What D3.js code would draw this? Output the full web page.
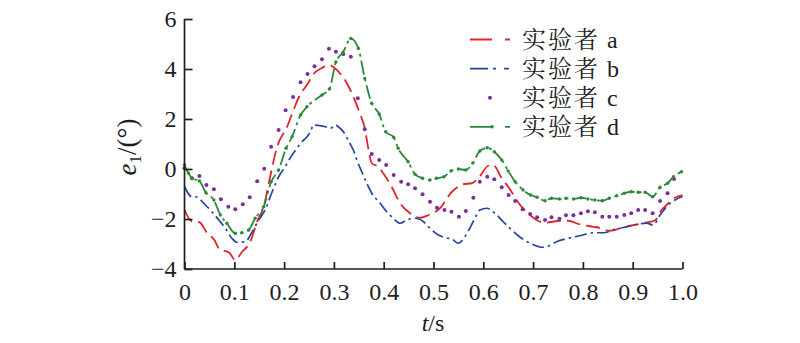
<!DOCTYPE html>
<html>
<head>
<meta charset="utf-8">
<script src="https://cdn.jsdelivr.net/npm/d3@7"></script>
<style>
  body { margin: 0; background: #fff; }
  svg { display: block; }
</style>
</head>
<body>
<svg id="chart" width="800" height="343"></svg>
<script>
// subject a (red, dashed)
const tA = [0, 0.015, 0.03, 0.045, 0.06, 0.07, 0.09, 0.102, 0.115, 0.132, 0.146, 0.159, 0.172, 0.186, 0.206, 0.219, 0.23, 0.248, 0.259, 0.275, 0.292, 0.302, 0.326, 0.339, 0.352, 0.362, 0.369, 0.376, 0.389, 0.399, 0.416, 0.433, 0.453, 0.473, 0.49, 0.513, 0.537, 0.56, 0.577, 0.59, 0.61, 0.62, 0.637, 0.65, 0.674, 0.694, 0.707, 0.724, 0.754, 0.771, 0.791, 0.811, 0.828, 0.854, 0.88, 0.9, 0.926, 0.945, 0.958, 0.968, 0.985, 1.0]
const eA = [-1.64, -2.1, -2.13, -2.55, -2.84, -3.2, -3.35, -3.64, -3.33, -2.91, -2.1, -1.51, -0.31, 0.89, 1.69, 2.36, 2.89, 3.43, 3.8, 4.03, 4.15, 4.03, 3.43, 2.89, 2.23, 1.63, 0.83, 0.23, 0.09, -0.17, -0.71, -1.37, -1.77, -1.95, -1.84, -1.57, -0.91, -0.61, -0.57, -0.37, 0.13, 0.16, -0.37, -0.71, -1.44, -1.84, -2.04, -2.15, -2.07, -2.07, -2.2, -2.28, -2.33, -2.47, -2.35, -2.25, -2.15, -2.05, -1.64, -1.44, -1.15, -1.05]

// subject b (blue, dash-dot)
const tB = [0, 0.015, 0.022, 0.042, 0.055, 0.069, 0.082, 0.095, 0.105, 0.122, 0.136, 0.149, 0.162, 0.176, 0.189, 0.202, 0.216, 0.226, 0.233, 0.246, 0.253, 0.259, 0.283, 0.293, 0.303, 0.31, 0.319, 0.332, 0.339, 0.346, 0.356, 0.366, 0.376, 0.393, 0.406, 0.419, 0.433, 0.446, 0.463, 0.48, 0.493, 0.51, 0.52, 0.537, 0.55, 0.563, 0.573, 0.583, 0.593, 0.607, 0.623, 0.64, 0.657, 0.674, 0.694, 0.717, 0.731, 0.747, 0.771, 0.794, 0.821, 0.841, 0.865, 0.888, 0.911, 0.928, 0.941, 0.955, 0.968, 0.985, 1.0]
const eB = [-0.71, -1.11, -1.11, -1.44, -1.71, -2.04, -2.37, -2.77, -2.93, -2.91, -2.51, -2.04, -1.64, -0.91, -0.31, 0.09, 0.56, 0.83, 1.03, 1.29, 1.49, 1.76, 1.69, 1.63, 1.76, 1.67, 1.49, 1.03, 0.76, 0.36, -0.11, -0.57, -0.97, -1.37, -1.71, -1.97, -2.17, -2.04, -1.97, -2.11, -2.37, -2.64, -2.73, -2.8, -2.97, -2.71, -2.37, -1.97, -1.64, -1.57, -1.77, -2.11, -2.44, -2.73, -2.97, -3.13, -3.08, -2.91, -2.77, -2.67, -2.55, -2.55, -2.41, -2.31, -2.2, -2.17, -2.24, -1.84, -1.51, -1.24, -1.1]

// subject c (purple, dots only)
const tC = [0, 0.015, 0.03, 0.044, 0.059, 0.073, 0.088, 0.102, 0.117, 0.131, 0.146, 0.16, 0.174, 0.189, 0.203, 0.218, 0.233, 0.247, 0.261, 0.276, 0.29, 0.304, 0.319, 0.334, 0.348, 0.362, 0.376, 0.391, 0.405, 0.42, 0.435, 0.449, 0.463, 0.478, 0.493, 0.507, 0.522, 0.536, 0.551, 0.565, 0.58, 0.593, 0.608, 0.622, 0.637, 0.651, 0.664, 0.679, 0.694, 0.708, 0.724, 0.737, 0.753, 0.766, 0.781, 0.796, 0.81, 0.824, 0.839, 0.853, 0.868, 0.883, 0.897, 0.911, 0.925, 0.94, 0.955, 0.97, 0.983]
const eC = [0.03, -0.37, -0.28, -0.64, -0.81, -1.21, -1.51, -1.61, -1.41, -1.13, -0.49, 0.01, 0.89, 1.56, 2.35, 2.88, 3.47, 3.8, 4.11, 4.39, 4.81, 4.69, 4.6, 4.49, 2.83, 1.59, 0.6, 0.36, 0.16, -0.24, -0.51, -0.61, -0.77, -1.01, -1.31, -1.55, -1.64, -1.71, -1.91, -1.68, -1.15, -0.51, -0.31, -0.41, -0.73, -1.04, -1.28, -1.61, -1.8, -1.93, -2.04, -1.93, -1.99, -1.85, -1.85, -1.77, -1.69, -1.73, -1.91, -1.91, -1.91, -1.84, -1.77, -1.64, -1.64, -1.77, -1.28, -0.97, -0.4]

// subject d (green, dash with markers)
const tD = [0, 0.008, 0.015, 0.03, 0.043, 0.059, 0.072, 0.085, 0.102, 0.115, 0.129, 0.142, 0.159, 0.174, 0.189, 0.204, 0.216, 0.233, 0.246, 0.276, 0.291, 0.304, 0.318, 0.334, 0.349, 0.362, 0.376, 0.391, 0.404, 0.42, 0.429, 0.449, 0.463, 0.478, 0.493, 0.506, 0.521, 0.535, 0.55, 0.565, 0.579, 0.593, 0.608, 0.622, 0.637, 0.65, 0.664, 0.68, 0.695, 0.708, 0.724, 0.737, 0.753, 0.766, 0.781, 0.796, 0.81, 0.824, 0.839, 0.853, 0.868, 0.883, 0.897, 0.911, 0.925, 0.94, 0.955, 0.97, 0.982, 0.998]
const eD = [0.16, -0.17, -0.37, -0.48, -0.95, -1.24, -1.84, -2.17, -2.57, -2.55, -2.44, -1.97, -1.51, -0.51, -0.04, 0.83, 1.29, 2.16, 2.49, 2.96, 3.2, 4.28, 4.66, 5.22, 4.83, 3.62, 2.63, 2.2, 1.49, 1.27, 0.83, 0.29, -0.21, -0.37, -0.44, -0.37, -0.31, -0.08, 0, -0.04, 0.24, 0.72, 0.85, 0.69, 0.36, -0.08, -0.51, -0.84, -1.04, -1.13, -1.27, -1.17, -1.2, -1.17, -1.2, -1.15, -1.2, -1.24, -1.27, -1.17, -1.07, -0.97, -0.91, -0.93, -0.93, -1.11, -0.73, -0.57, -0.31, -0.11]

const xTicks = [0, 0.1, 0.2, 0.3, 0.4, 0.5, 0.6, 0.7, 0.8, 0.9, 1.0]
const yTicks = [-4, -2, 0, 2, 4, 6]
const legendNames = ['实验者', '实验者', '实验者', '实验者']
const legendKeys = ['a', 'b', 'c', 'd']

const serif = "'Liberation Serif', 'Times New Roman', serif"
// latin face first so the CJK glyphs fall back to the serif CJK face
const mixed = "'Liberation Serif', 'Noto Serif CJK SC', serif"
const ink = '#1e1e1e'

const svg = d3.select('#chart')
const x = d3.scaleLinear().domain([0, 1]).range([184.5, 682.5])
const y = d3.scaleLinear().domain([-4, 6]).range([269, 19])

const series = [
  {t: tA, e: eA, color: '#e3232b', dash: '14,6', width: 1.8},
  {t: tB, e: eB, color: '#27479e', dash: '12,4,2.5,4', width: 1.7},
  {t: tC, e: eC, color: '#7b2f98', dots: true},
  {t: tD, e: eD, color: '#2b8a3a', dash: '14,4,3,4', width: 1.8, marks: true}
]

const line = d3.line().x(d => x(d[0])).y(d => y(d[1])).curve(d3.curveMonotoneX)

series.forEach(s => {
  const pts = s.t.map((t, i) => [t, s.e[i]])
  if (!s.dots) {
    svg.append('path')
      .attr('d', line(pts))
      .attr('fill', 'none')
      .attr('stroke', s.color)
      .attr('stroke-width', s.width)
      .attr('stroke-dasharray', s.dash)
  }
  if (s.dots || s.marks) {
    svg.append('g').selectAll('circle').data(pts).enter().append('circle')
      .attr('cx', d => x(d[0]))
      .attr('cy', d => y(d[1]))
      .attr('r', s.dots ? 2 : 1.7)
      .attr('fill', s.color)
  }
})

// axes, ticks pointing inward
const xAxis = d3.axisBottom(x).tickValues(xTicks).tickSize(-7).tickPadding(14)
  .tickFormat(d => d === 0 ? '0' : d3.format('.1f')(d))
const yAxis = d3.axisLeft(y).tickValues(yTicks).tickSize(-8).tickPadding(8)
  .tickFormat(d => (d < 0 ? '\u2212' : '') + Math.abs(d))

const gx = svg.append('g').attr('transform', 'translate(0,269)').call(xAxis)
const gy = svg.append('g').attr('transform', 'translate(184.5,0)').call(yAxis)
;[gx, gy].forEach(g => {
  g.attr('font-family', serif).attr('font-size', 24)
  g.select('.domain').attr('stroke', ink).attr('stroke-width', 1.7)
  g.selectAll('.tick line').attr('stroke', ink).attr('stroke-width', 1.7)
  g.selectAll('.tick text').attr('fill', ink).style('font-family', serif).style('font-size', '24px')
})
gx.select('.domain').attr('d', 'M184.5,0H682.5')
gy.select('.domain').attr('d', 'M0,19V269')
gx.selectAll('.tick text').attr('dy', '0.71em')

// axis titles
svg.append('text')
  .attr('x', 433).attr('y', 331)
  .attr('text-anchor', 'middle')
  .style('font-family', serif).style('font-size', '24px').attr('fill', ink)
  .call(t => {
    t.append('tspan').style('font-style', 'italic').text('t')
    t.append('tspan').text('/s')
  })

svg.append('text')
  .attr('transform', 'translate(136,147) rotate(-90)')
  .attr('text-anchor', 'middle')
  .style('font-family', serif).style('font-size', '27px').attr('fill', ink)
  .call(t => {
    t.append('tspan').style('font-style', 'italic').text('e')
    t.append('tspan').attr('dy', 5).style('font-size', '17px').text('1')
    t.append('tspan').attr('dy', -5).text('/(°)')
  })

// legend
const legend = svg.append('g')
const rowY = i => 39.5 + i * 29.1
const legendDash = ['22,13,5', '18,5,3,8,5', null, '22,13,5']
series.forEach((s, i) => {
  const ly = rowY(i)
  if (s.dots) {
    legend.append('circle').attr('cx', 490).attr('cy', ly).attr('r', 2).attr('fill', s.color)
  } else {
    legend.append('line')
      .attr('x1', 470).attr('x2', 510).attr('y1', ly).attr('y2', ly)
      .attr('stroke', s.color).attr('stroke-width', s.width)
      .attr('stroke-dasharray', legendDash[i])
    if (s.marks) legend.append('circle').attr('cx', 492).attr('cy', ly).attr('r', 1.8).attr('fill', s.color)
  }
  const txt = legend.append('text')
    .attr('x', 522).attr('y', ly + 8.5)
    .attr('fill', ink)
    .style('font-family', mixed).style('font-size', '24px')
  txt.append('tspan').style('letter-spacing', '2px').text(legendNames[i])
  txt.append('tspan').attr('dx', 7).text(legendKeys[i])
})
</script>
</body>
</html>
